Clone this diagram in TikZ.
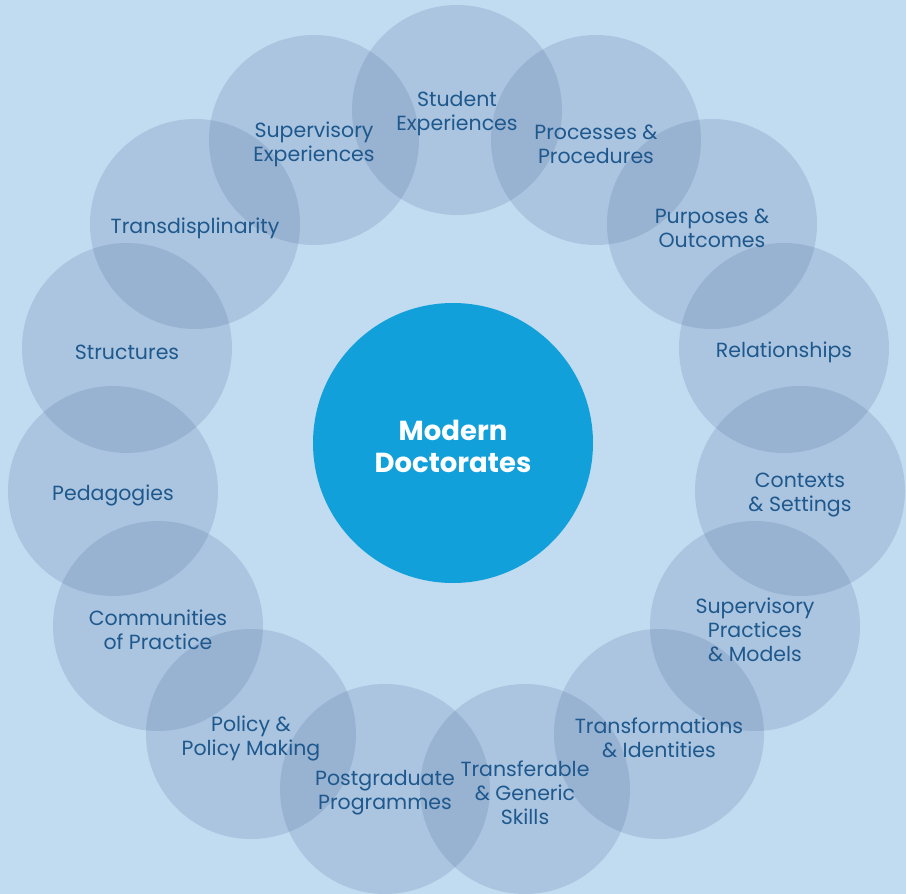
\documentclass[tikz,border=0pt]{standalone}
\usepackage{fontspec}
\setmainfont{Poppins}
\definecolor{bgblue}{RGB}{193,219,240}
\definecolor{bubblefill}{RGB}{46,72,133}
\definecolor{labelblue}{RGB}{30,88,140}
\definecolor{coreblue}{RGB}{18,160,218}
\begin{document}
\begin{tikzpicture}[x=1pt, y=-1pt,
    bubble/.style={circle, fill=bubblefill, fill opacity=0.15,
      minimum size=210pt, inner sep=0pt},
    tag/.style={text=labelblue, align=center, yshift=-4pt,
      font=\fontsize{20.5}{24}\selectfont},
    core/.style={circle, fill=coreblue, minimum size=280pt, inner sep=0pt},
    coretag/.style={text=white, align=center, yshift=-3pt,
      font=\fontsize{27.5}{32}\selectfont\bfseries}]

    \useasboundingbox (0,0) rectangle (906,894);
    \fill[bgblue] (0,0) rectangle (906,894);

    % Top arc
    \node[bubble] (student) at (457,110) {};
    \node[bubble] (processes) at (596,140) {};
    \node[bubble] (purposes) at (712,224) {};
    \node[bubble] (relationships) at (784,348) {};
    \node[bubble] (contexts) at (800,491) {};

    % Bottom arc
    \node[bubble] (practices) at (755,626) {};
    \node[bubble] (transformations) at (659,734) {};
    \node[bubble] (transferable) at (525,789) {};
    \node[bubble] (postgraduate) at (385,789) {};
    \node[bubble] (policy) at (251,734) {};

    % Left arc
    \node[bubble] (communities) at (158,626) {};
    \node[bubble] (pedagogies) at (113,491) {};
    \node[bubble] (structures) at (127,348) {};
    \node[bubble] (transdisciplinarity) at (195,224) {};
    \node[bubble] (supervisory) at (314,140) {};

    % Labels
    \node[tag] (student-t) at (student) {Student\\Experiences};
    \node[tag] (processes-t) at (processes) {Processes \&\\Procedures};
    \node[tag] (purposes-t) at (purposes) {Purposes \&\\Outcomes};
    \node[tag] (relationships-t) at (relationships) {Relationships};
    \node[tag] (contexts-t) at (contexts) {Contexts\\\& Settings};
    \node[tag] (practices-t) at (practices) {Supervisory\\Practices\\\& Models};
    \node[tag] (transformations-t) at (transformations) {Transformations\\\& Identities};
    \node[tag] (transferable-t) at (transferable) {Transferable\\\& Generic\\Skills};
    \node[tag] (postgraduate-t) at (postgraduate) {Postgraduate\\Programmes};
    \node[tag] (policy-t) at (policy) {Policy \&\\Policy Making};
    \node[tag] (communities-t) at (communities) {Communities\\of Practice};
    \node[tag] (pedagogies-t) at (pedagogies) {Pedagogies};
    \node[tag] (structures-t) at (structures) {Structures};
    \node[tag] (transdisciplinarity-t) at (transdisciplinarity) {Transdisplinarity};
    \node[tag] (supervisory-t) at (supervisory) {Supervisory\\Experiences};

    % Centre
    \node[core] (doctorates) at (453,443) {};
    \node[coretag] (doctorates-t) at (doctorates) {Modern\\Doctorates};

\end{tikzpicture}
\end{document}
